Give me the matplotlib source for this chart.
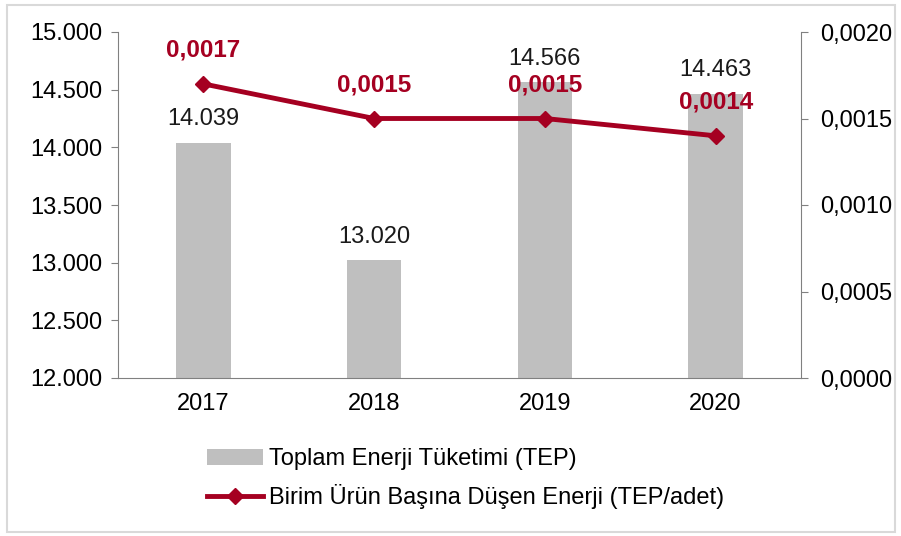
import matplotlib.pyplot as plt
from matplotlib.patches import Rectangle

plt.rcParams['font.family'] = ['Liberation Sans', 'DejaVu Sans']

years = ['2017', '2018', '2019', '2020']
toplam = [14039, 13020, 14566, 14463]
toplam_labels = ['14.039', '13.020', '14.566', '14.463']
birim = [0.0017, 0.0015, 0.0015, 0.0014]
birim_labels = ['0,0017', '0,0015', '0,0015', '0,0014']
left_ticks = [12000, 12500, 13000, 13500, 14000, 14500, 15000]
left_tick_labels = ['12.000', '12.500', '13.000', '13.500', '14.000', '14.500', '15.000']
right_ticks = [0.0, 0.0005, 0.0010, 0.0015, 0.0020]
right_tick_labels = ['0,0000', '0,0005', '0,0010', '0,0015', '0,0020']

bar_color = '#BFBFBF'
line_color = '#A50021'
spine_color = '#808080'
fs = 17

fig = plt.figure(figsize=(9.01, 5.36), dpi=100)
fig.patches.append(Rectangle((7 / 901, 4 / 536), 888 / 901, 527 / 536, transform=fig.transFigure,
                             fill=False, edgecolor='#D9D9D9', linewidth=1.5))

ax = fig.add_axes([118 / 901, 158 / 536, 683 / 901, 346 / 536])
x = list(range(len(years)))
bars = ax.bar(x, toplam, width=0.32, color=bar_color, label='Toplam Enerji Tüketimi (TEP)', zorder=2)
ax.set_xlim(-0.5, 3.5)
ax.set_ylim(12000, 15000)
ax.set_yticks(left_ticks)
ax.set_yticklabels(left_tick_labels)
ax.set_xticks(x)
ax.set_xticklabels(years)
ax.tick_params(axis='x', length=0, labelsize=fs, pad=11)
ax.tick_params(axis='y', labelsize=fs, color=spine_color, length=5, pad=6)
for s in ['top', 'right']:
    ax.spines[s].set_visible(False)
for s in ['left', 'bottom']:
    ax.spines[s].set_color(spine_color)
for xi, v, lab in zip(x, toplam, toplam_labels):
    ax.annotate(lab, (xi, v), xytext=(0, 9), textcoords='offset points',
                ha='center', va='bottom', fontsize=fs, color='#1a1a1a')

ax2 = ax.twinx()
line, = ax2.plot(x, birim, color=line_color, linewidth=3.5, marker='D', markersize=8,
                 label='Birim Ürün Başına Düşen Enerji (TEP/adet)', zorder=3)
ax2.set_ylim(0, 0.002)
ax2.set_yticks(right_ticks)
ax2.set_yticklabels(right_tick_labels)
ax2.tick_params(axis='y', labelsize=fs, color=spine_color, length=5, pad=9)
for s in ['top', 'left', 'bottom']:
    ax2.spines[s].set_visible(False)
ax2.spines['right'].set_color(spine_color)
for xi, v, lab in zip(x, birim, birim_labels):
    ax2.annotate(lab, (xi, v), xytext=(0, 16), textcoords='offset points',
                 ha='center', va='bottom', fontsize=17.5, fontweight='bold', color=line_color)

fig.legend([bars, line], [bars.get_label(), line.get_label()],
           loc='upper left', bbox_to_anchor=(186 / 901, 1 - 427 / 536), frameon=False,
           fontsize=fs, handlelength=2.35, handletextpad=0.25, labelspacing=0.6)

fig.savefig('out.png', dpi=100)
